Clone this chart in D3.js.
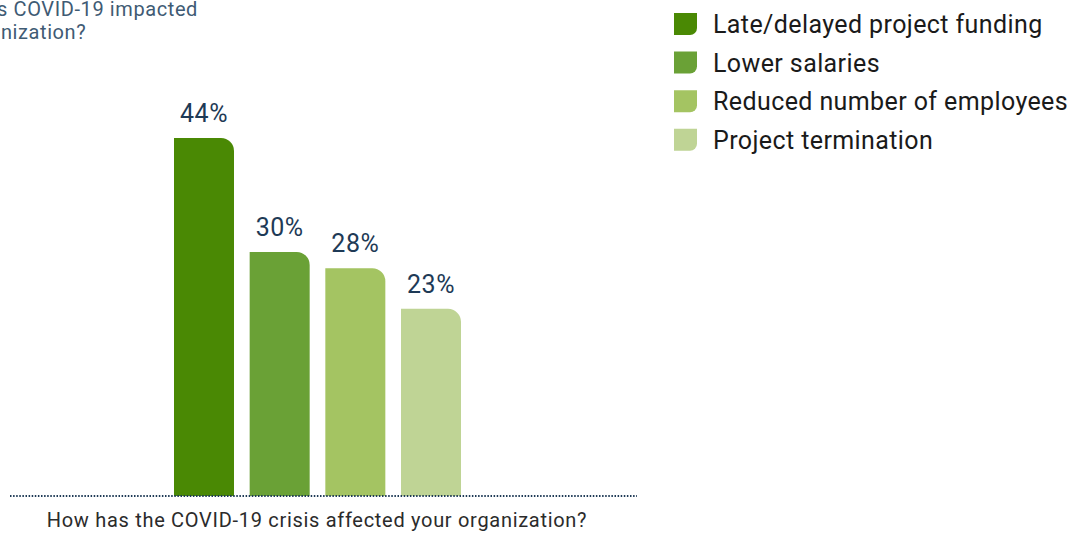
<!DOCTYPE html>
<html>
<head>
<meta charset="utf-8">
<script src="https://cdn.jsdelivr.net/npm/d3@7"></script>
<style>
  html, body { margin: 0; padding: 0; background: #fff; }
  svg { display: block; }
  text { font-family: Roboto, "Noto Sans", sans-serif; }
</style>
</head>
<body>
<svg id="chart" width="1075" height="534"></svg>
<script>
// Chart data
const categories = ["Late/delayed project funding", "Lower salaries", "Reduced number of employees", "Project termination"];
const values = [44, 30, 28, 23];
const colors = ["#4a8904", "#6aa136", "#a4c462", "#bfd495"];
const titleLines = ["How has COVID-19 impacted", "your organization?"];
const axisLabel = "How has the COVID-19 crisis affected your organization?";

const svg = d3.select("#chart");
const baseY = 496;

const x = d3.scaleBand()
  .domain(categories)
  .range([174, 461])
  .paddingInner(0.207)
  .paddingOuter(0);

const y = d3.scaleLinear()
  .domain([0, 44])
  .range([baseY, 138]);

// Bar path with a rounded top-right corner only
function barPath(x0, y0, w, h, r) {
  r = Math.min(r, w, h);
  return `M${x0},${y0 + h}V${y0}H${x0 + w - r}` +
    `A${r},${r} 0 0 1 ${x0 + w},${y0 + r}V${y0 + h}Z`;
}

// Bars
svg.append("g").selectAll("path")
  .data(categories)
  .join("path")
  .attr("d", (d, i) => barPath(x(d), y(values[i]), x.bandwidth(), baseY - y(values[i]), 13))
  .attr("fill", (d, i) => colors[i]);

// Value labels
svg.append("g").selectAll("text")
  .data(categories)
  .join("text")
  .attr("x", d => x(d) + x.bandwidth() / 2)
  .attr("y", (d, i) => y(values[i]) - 16)
  .attr("text-anchor", "middle")
  .attr("font-size", 25)
  .attr("letter-spacing", 0.5)
  .attr("fill", "#1e3a56")
  .text((d, i) => values[i] + "%");

// Dotted baseline
svg.append("line")
  .attr("x1", 10).attr("x2", 637)
  .attr("y1", baseY).attr("y2", baseY)
  .attr("stroke", "#1e3a56")
  .attr("stroke-width", 2)
  .attr("stroke-dasharray", "1.5,1.6");

// Axis caption
svg.append("text")
  .attr("x", 317)
  .attr("y", 527)
  .attr("text-anchor", "middle")
  .attr("font-size", 20)
  .attr("letter-spacing", 0.7)
  .attr("fill", "#2b2b2b")
  .text(axisLabel);

// Title, right end of the first line at x = 198, running off the left edge
const title = svg.append("g");
const titleText = title.selectAll("text")
  .data(titleLines)
  .join("text")
  .attr("y", (d, i) => 16 + i * 23)
  .attr("font-size", 20)
  .attr("letter-spacing", 0.6)
  .attr("fill", "#3f5b74")
  .text(d => d);
const firstLen = titleText.node().getComputedTextLength();
titleText.attr("x", (d, i) => 198 - firstLen - i * 14);

// Legend
const legend = svg.append("g").selectAll("g")
  .data(categories)
  .join("g")
  .attr("transform", (d, i) => `translate(674, ${13 + i * 38.6})`);

legend.append("path")
  .attr("d", "M0,0H23V15A7,7 0 0 1 16,22H0Z")
  .attr("fill", (d, i) => colors[i]);

legend.append("text")
  .attr("x", 39)
  .attr("y", 20)
  .attr("font-size", 25)
  .attr("letter-spacing", 0.4)
  .attr("fill", "#1a1a1a")
  .text(d => d);
</script>
</body>
</html>
